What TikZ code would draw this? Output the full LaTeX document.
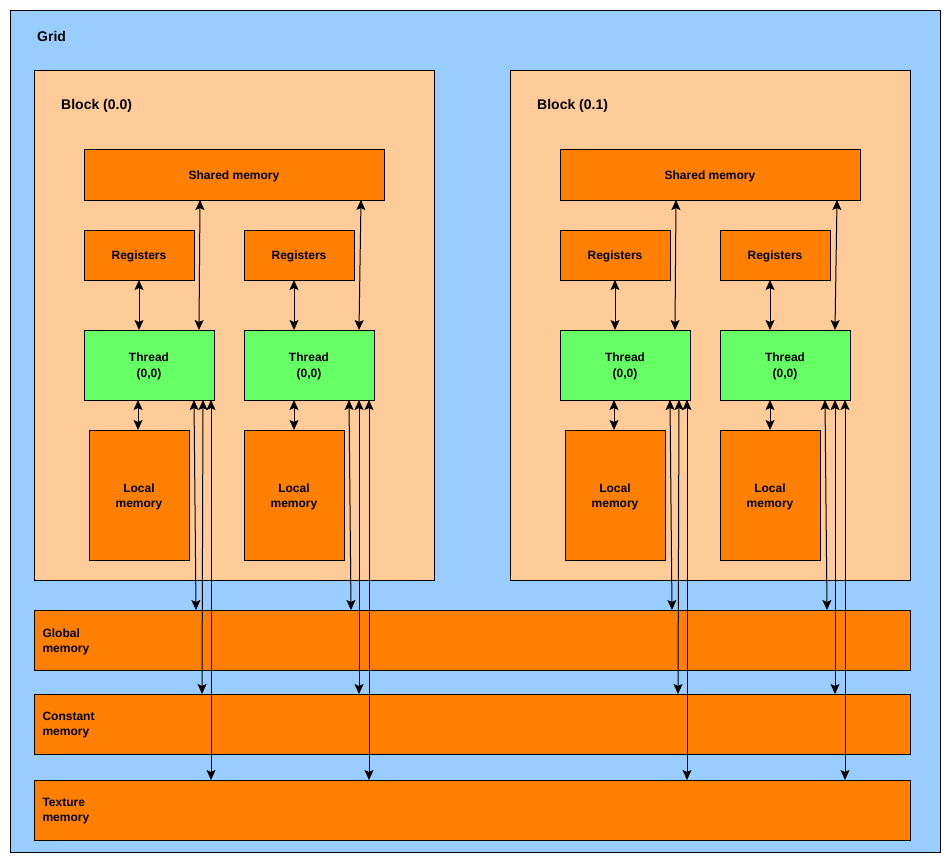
\documentclass[tikz,border=0pt]{standalone}
\usepackage{fontspec}
\setmainfont{Liberation Sans}
\usetikzlibrary{arrows.meta,calc}
\definecolor{gridblue}{HTML}{99CCFF}
\definecolor{peach}{HTML}{FFCC99}
\definecolor{orng}{HTML}{FF8000}
\definecolor{grn}{HTML}{66FF66}
\tikzset{
  box/.style={draw=black, line width=0.8pt, anchor=north west, inner sep=0pt, outer sep=0pt},
  obox/.style={box, fill=orng},
  small/.style={font=\fontsize{12}{15}\selectfont\bfseries, align=center, yshift=-1.5pt},
  big/.style={font=\fontsize{14}{17}\selectfont\bfseries, inner sep=0pt, yshift=-1pt},
  tip/.style={Stealth[length=10pt,width=9pt,inset=2pt,line width=0.5pt]},
  conn/.style={line width=1pt, {Stealth[length=10pt,width=9pt,inset=2pt]}-{Stealth[length=10pt,width=9pt,inset=2pt]}},
}
\begin{document}
\begin{tikzpicture}[x=1pt,y=-1pt]
\useasboundingbox (0,0) rectangle (951,863);
\node[box, fill=gridblue, minimum width=930, minimum height=842] (grid) at (10,10) {};
\node[big, anchor=west] (gridlbl) at (37,35) {Grid};
% memories
\node[obox, minimum width=876, minimum height=60] (glob) at (34,610) {};
\node[obox, minimum width=876, minimum height=60] (cons) at (34,694) {};
\node[obox, minimum width=876, minimum height=60] (tex) at (34,780) {};
\node[small, align=left, anchor=west] (globlbl) at (39,640) {Global\\memory};
\node[small, align=left, anchor=west] (conslbl) at (39,724) {Constant\\memory};
\node[small, align=left, anchor=west] (texlbl) at (39,810) {Texture\\memory};
\foreach \b/\dx/\lbl in {0/0/{Block (0.0)}, 1/476/{Block (0.1)}}{
  \node[box, fill=peach, minimum width=400, minimum height=510] (blk\b) at (34+\dx,70) {};
  \node[big, anchor=west] (blklbl\b) at (61+\dx,105) {\lbl};
  \node[obox, minimum width=300, minimum height=51] (sh\b) at (84+\dx,149) {};
  \node[small] (shl\b) at (sh\b.center) {Shared memory};
  \node[obox, minimum width=110, minimum height=50] (ra\b) at (84+\dx,230) {};
  \node[small] at (ra\b.center) {Registers};
  \node[obox, minimum width=110, minimum height=50] (rb\b) at (244+\dx,230) {};
  \node[small] at (rb\b.center) {Registers};
  \node[box, fill=grn, minimum width=130, minimum height=70] (ta\b) at (84+\dx,330) {};
  \node[small, font=\fontsize{12}{16}\selectfont\bfseries] at (ta\b.center) {Thread\\(0,0)};
  \node[box, fill=grn, minimum width=130, minimum height=70] (tb\b) at (244+\dx,330) {};
  \node[small, font=\fontsize{12}{16}\selectfont\bfseries] at (tb\b.center) {Thread\\(0,0)};
  \node[obox, minimum width=100, minimum height=130] (la\b) at (89+\dx,430) {};
  \node[small] at (la\b.center) {Local\\memory};
  \node[obox, minimum width=100, minimum height=130] (lb\b) at (244+\dx,430) {};
  \node[small] at (lb\b.center) {Local\\memory};
}
\foreach \b/\dx in {0/0, 1/476}{
  % thread A
  \draw[conn] ($(ra\b.south west)+(55,0)$) -- ($(ta\b.north west)+(55,0)$);
  \draw[conn] ($(sh\b.south west)+(116,0)$) -- ($(ta\b.north west)+(115,0)$);
  \draw[conn] ($(ta\b.south west)+(54,0)$) -- ($(la\b.north west)+(49,0)$);
  \draw[conn] ($(ta\b.south west)+(110,0)$) -- ($(glob.north west)+(162+\dx,0)$);
  \draw[conn] ($(ta\b.south west)+(119,0)$) -- ($(cons.north west)+(168+\dx,0)$);
  \draw[conn] ($(ta\b.south west)+(127,0)$) -- ($(tex.north west)+(177+\dx,0)$);
  % thread B
  \draw[conn] ($(rb\b.south west)+(50,0)$) -- ($(tb\b.north west)+(50,0)$);
  \draw[conn] ($(sh\b.south west)+(277,0)$) -- ($(tb\b.north west)+(115,0)$);
  \draw[conn] ($(tb\b.south west)+(50,0)$) -- ($(lb\b.north west)+(50,0)$);
  \draw[conn] ($(tb\b.south west)+(105,0)$) -- ($(glob.north west)+(317+\dx,0)$);
  \draw[conn] ($(tb\b.south west)+(115,0)$) -- ($(cons.north west)+(325+\dx,0)$);
  \draw[conn] ($(tb\b.south west)+(125,0)$) -- ($(tex.north west)+(335+\dx,0)$);
}
\end{tikzpicture}
\end{document}
